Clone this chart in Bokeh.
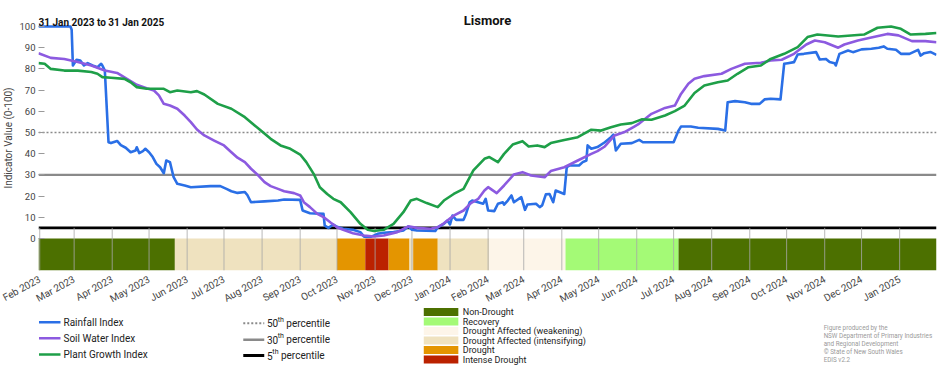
import math
import pandas as pd
from bokeh.plotting import figure
from bokeh.models import (Range1d, Span, FixedTicker, MonthsTicker,
                          DatetimeTickFormatter, ColumnDataSource)
from bokeh.layouts import column
from bokeh.core.properties import value
from bokeh.embed import file_html
from bokeh.resources import INLINE

FONT = "Roboto"

# ---------------- data ----------------
rain_dates = ["2023-01-31","2023-02-26","2023-02-27","2023-02-28","2023-03-03","2023-03-06","2023-03-09",
    "2023-03-12","2023-03-16","2023-03-20","2023-03-23","2023-03-24","2023-03-26","2023-03-29","2023-03-31",
    "2023-04-05","2023-04-08","2023-04-12","2023-04-16","2023-04-20","2023-04-21","2023-04-23","2023-04-26",
    "2023-04-28","2023-05-01","2023-05-04","2023-05-07","2023-05-10","2023-05-13","2023-05-15","2023-05-18",
    "2023-05-21","2023-05-24","2023-05-30","2023-06-04","2023-06-20","2023-06-28","2023-07-03","2023-07-07",
    "2023-07-12","2023-07-18","2023-07-20","2023-07-23","2023-08-03","2023-08-14","2023-08-19","2023-09-01",
    "2023-09-03","2023-09-09","2023-09-20","2023-09-21","2023-09-24","2023-09-28","2023-10-01","2023-10-06",
    "2023-10-14","2023-10-20","2023-10-23","2023-10-29","2023-11-03","2023-11-08","2023-11-16","2023-11-24",
    "2023-11-28","2023-12-01","2023-12-05","2023-12-20","2023-12-22","2023-12-27","2023-12-30","2024-01-01",
    "2024-01-03","2024-01-06","2024-01-12","2024-01-14","2024-01-17","2024-01-19","2024-01-28","2024-01-30",
    "2024-02-01","2024-02-06","2024-02-09","2024-02-13","2024-02-14","2024-02-17","2024-02-20","2024-02-22",
    "2024-02-28","2024-03-02","2024-03-04","2024-03-11","2024-03-14","2024-03-16","2024-03-19","2024-03-22",
    "2024-03-25","2024-03-27","2024-04-03","2024-04-05","2024-04-07","2024-04-15","2024-04-18","2024-04-21",
    "2024-04-22","2024-04-25","2024-04-30","2024-05-06","2024-05-11","2024-05-13","2024-05-15","2024-05-19",
    "2024-05-28","2024-06-03","2024-06-06","2024-07-01","2024-07-05","2024-07-07","2024-07-15","2024-07-21",
    "2024-08-06","2024-08-12","2024-08-14","2024-08-20","2024-08-28","2024-09-02","2024-09-09","2024-09-13",
    "2024-09-18","2024-09-26","2024-09-29","2024-10-02","2024-10-07","2024-10-10","2024-10-15","2024-10-25",
    "2024-10-28","2024-11-02","2024-11-05","2024-11-09","2024-11-10","2024-11-13","2024-11-20","2024-11-24",
    "2024-12-01","2024-12-09","2024-12-15","2024-12-19","2024-12-22","2024-12-29","2025-01-02","2025-01-09",
    "2025-01-16","2025-01-18","2025-01-21","2025-01-26","2025-01-31"]
rain_vals = [100,100,98.5,81.6,84.3,84,81.6,
    82.7,81.6,80.8,82.4,81.6,79.2,45.4,45,
    46,44,42.8,40.7,41.5,43,40.3,41.2,
    42.3,40.7,38.4,35.2,33.6,30.8,36.8,36,
    28.9,25.8,25,24.2,24.7,24.7,23.4,22.3,
    21.5,21.9,20.5,17.1,17.5,17.9,18.4,18.2,
    13.2,11.9,11.6,6.1,5.0,6.6,5.5,4.6,
    4.1,3.0,0.9,0.9,2.2,2.7,3.0,3.8,
    5.7,4.1,3.8,3.5,5.3,6.9,8.5,6.6,
    10.8,8.8,8.8,11.6,17.1,17.9,16.4,18.7,
    13.2,12.9,16.4,17.1,16,17.9,20.3,17.1,
    19.5,13.5,16,16.4,14.8,15.6,20.8,21,
    17.1,22.6,21,33.6,34.4,34.4,36,36.8,
    43.9,42.3,43.1,45.4,47.8,49,41.5,44.7,
    45,46.5,45.4,45.4,50.9,52.8,52.8,52.2,
    51.7,50.9,64.3,64.8,64.3,63.5,63.5,65.6,
    65.9,65.6,82.4,82.7,83.2,86.8,87.1,87.9,
    84.4,84.7,83.2,82.7,81.6,87.1,88.7,87.9,
    89.2,89.5,90,90.6,89.5,89,87.1,87.1,
    89,86.3,87.4,88,86.6]

soil_dates = ["2023-01-31","2023-02-10","2023-02-21","2023-03-04","2023-03-15","2023-03-26","2023-04-05",
    "2023-04-13","2023-04-21","2023-04-29","2023-05-05","2023-05-09","2023-05-13","2023-05-18","2023-05-24",
    "2023-05-30","2023-06-04","2023-06-09","2023-06-15","2023-06-23","2023-07-01","2023-07-07","2023-07-12",
    "2023-07-18","2023-07-23","2023-07-29","2023-08-03","2023-08-08","2023-08-14","2023-08-19","2023-08-27",
    "2023-09-01","2023-09-04","2023-09-09","2023-09-15","2023-09-20","2023-09-26","2023-10-01","2023-10-06",
    "2023-10-14","2023-10-23","2023-10-31","2023-11-08","2023-11-19","2023-11-28","2023-12-05","2023-12-16",
    "2023-12-22","2023-12-27","2024-01-04","2024-01-12","2024-01-18","2024-01-24","2024-01-29","2024-02-01",
    "2024-02-08","2024-02-14","2024-02-22","2024-02-29","2024-03-07","2024-03-18","2024-03-23","2024-04-03",
    "2024-04-14","2024-04-25","2024-04-30","2024-05-06","2024-05-14","2024-05-22","2024-05-30","2024-06-02",
    "2024-06-13","2024-06-24","2024-07-02","2024-07-07","2024-07-13","2024-07-18","2024-07-26","2024-08-09",
    "2024-08-17","2024-08-28","2024-09-10","2024-09-18","2024-09-27","2024-10-07","2024-10-17","2024-10-24",
    "2024-11-01","2024-11-12","2024-11-17","2024-11-28","2024-12-08","2024-12-22","2024-12-31","2025-01-11",
    "2025-01-22","2025-01-31"]
soil_vals = [87.4,85.2,84.7,83.2,81.6,79.2,78.1,
    75.3,72.5,70.9,69.8,67.5,63.5,62.7,61.2,
    58,54.9,51.4,48.6,46.2,43.9,40.7,38.1,
    36,32.9,29.7,26.6,24.7,23.4,22.3,21.4,
    20.3,17.1,14.8,11.6,10.1,7.4,5.3,4.1,
    2.5,1.4,0.9,1.4,3.0,5.7,5.0,4.6,
    5.3,7.2,10.8,13.2,16.7,18.7,22.6,24.2,
    21.4,25,30.2,31.3,29.7,28.9,31.8,33.6,
    36.8,39.9,41.2,43.4,48.6,50.2,52.8,53.8,
    58.8,61.6,62.7,68.2,73,75.3,76.6,77.7,
    80,82.4,82.9,84,84.3,87.1,91.5,93.4,
    92.6,90,91.5,93.4,94.7,96.5,95.8,93.1,
    93.1,92.6]

plant_dates = ["2023-01-31","2023-02-05","2023-02-10","2023-02-21","2023-03-04","2023-03-15","2023-03-20",
    "2023-03-24","2023-03-31","2023-04-11","2023-04-16","2023-04-21","2023-04-29","2023-05-13","2023-05-18",
    "2023-05-24","2023-06-04","2023-06-09","2023-06-15","2023-06-26","2023-07-07","2023-07-18","2023-07-26",
    "2023-07-31","2023-08-08","2023-08-16","2023-08-24","2023-09-01","2023-09-06","2023-09-12","2023-09-17",
    "2023-09-23","2023-09-28","2023-10-04","2023-10-12","2023-10-20","2023-10-26","2023-10-31","2023-11-08",
    "2023-11-16","2023-11-24","2023-11-30","2023-12-05","2023-12-13","2023-12-22","2023-12-27","2024-01-04",
    "2024-01-12","2024-01-20","2024-01-29","2024-02-02","2024-02-09","2024-02-14","2024-02-21","2024-02-29",
    "2024-03-05","2024-03-12","2024-03-18","2024-03-23","2024-04-03","2024-04-14","2024-04-25","2024-05-03",
    "2024-05-11","2024-05-19","2024-05-28","2024-06-05","2024-06-13","2024-06-24","2024-07-02","2024-07-10",
    "2024-07-18","2024-07-26","2024-08-06","2024-08-14","2024-08-22","2024-08-31","2024-09-10","2024-09-18",
    "2024-09-29","2024-10-10","2024-10-18","2024-10-26","2024-11-12","2024-12-03","2024-12-14","2024-12-25",
    "2025-01-02","2025-01-10","2025-01-22","2025-01-31"]
plant_vals = [82.7,82.4,80,79.2,79.2,78.5,77.7,
    76.1,75.8,75.3,73.7,71.4,70.6,70.6,69,
    69.8,69,69.5,67.9,63.5,61.2,57.2,53.3,
    50.9,47,43.9,42.3,39.6,36,30.5,24.2,
    21,18.7,17.1,12.4,6.9,4.1,3.5,4.1,
    6.9,12.4,17.9,18.7,16.7,14.8,17.9,21,
    23.4,32.1,37.6,38.4,36,39.9,44.3,45.9,
    43.4,43.9,43.1,45,46.5,47.8,51.3,50.9,
    52.5,53.8,54.4,56.2,56,58,60.1,62.7,
    68.6,72.2,73.7,74.5,77.7,80.8,81.6,84.7,
    87.1,90.3,95,96.2,95.3,96.2,99.4,100,
    98.9,96.2,96.5,96.9]

band_start = ["2023-01-31","2023-05-22","2023-10-01","2023-10-24","2023-11-12","2023-11-29",
              "2023-12-02","2023-12-22","2024-02-02","2024-04-04","2024-07-05"]
band_end = ["2023-05-22","2023-10-01","2023-10-24","2023-11-12","2023-11-29","2023-12-02",
            "2023-12-22","2024-02-02","2024-04-04","2024-07-05","2025-01-31"]
band_cat = ["Non-Drought","Drought Affected (intensifying)","Drought","Intense Drought","Drought",
            "Drought Affected (intensifying)","Drought","Drought Affected (intensifying)",
            "Drought Affected (weakening)","Recovery","Non-Drought"]

drought_classes = ["Non-Drought","Recovery","Drought Affected (weakening)",
                   "Drought Affected (intensifying)","Drought","Intense Drought"]
drought_colors = ["#4c7000","#a4fa76","#fdf5e9","#efe2bf","#e49500","#bb2200"]

series_names = ["Rainfall Index","Soil Water Index","Plant Growth Index"]
series_colors = ["#2a6fe6","#8c5ae0","#1e9f48"]

pct_levels = [50, 30, 5]
pct_labels = ["50","30","5"]
pct_colors = ["#8a8a8a","#8a8a8a","#000000"]
pct_widths = [1.6, 2.2, 2.6]
pct_dashes = ["2 2","solid","solid"]

y_ticks = [0,10,20,30,40,50,60,70,80,90,100]

title_text = "Lismore"
subtitle_text = "31 Jan 2023 to 31 Jan 2025"
y_title = "Indicator Value (0-100)"
credits = ["Figure produced by the","NSW Department of Primary Industries",
           "and Regional Development","\u00a9 State of New South Wales","EDIS v2.2"]

# ---------------- main figure ----------------
x0 = pd.Timestamp("2023-01-31")
x1 = pd.Timestamp("2025-01-31")

W = 952
MAIN_H = 312
BL, BR, BT, BB = 37, 16, 5, 42
FW = W - BL - BR
FH = MAIN_H - BT - BB
PX_PER_UNIT = 2.12
Y_BOT = -15.1
Y_TOP = Y_BOT + FH / PX_PER_UNIT
OVERLAP = 6   # the legend strip is pulled up over the empty bottom of the main canvas


def page_y_to_val(py):
    # vertical page position (px from the top) -> value on the y scale
    return Y_TOP - (py - BT) / PX_PER_UNIT


p = figure(width=W, height=MAIN_H, x_axis_type="datetime",
           x_range=Range1d(x0, x1), y_range=Range1d(Y_BOT, Y_TOP),
           toolbar_location=None, output_backend="svg",
           min_border_left=BL, min_border_right=BR, min_border_top=BT, min_border_bottom=BB)
p.outline_line_color = None
p.xgrid.visible = False
p.ygrid.visible = False
p.background_fill_color = "white"
p.border_fill_color = "white"

# drought band
cmap = dict(zip(drought_classes, drought_colors))
band_src = ColumnDataSource(dict(
    left=pd.to_datetime(band_start), right=pd.to_datetime(band_end),
    color=[cmap[c] for c in band_cat], cat=band_cat))
p.quad(left="left", right="right", bottom=Y_BOT, top=0, fill_color="color",
       line_color=None, source=band_src)

# month gridlines in the band area
months = pd.date_range("2023-02-01", "2025-01-01", freq="MS")
p.segment(x0=months, y0=[Y_BOT]*len(months), x1=months, y1=[5]*len(months),
          line_color="#a8a8a8", line_alpha=0.8, line_width=1)

# percentile reference lines
for lvl, col, w, d in zip(pct_levels, pct_colors, pct_widths, pct_dashes):
    p.add_layout(Span(location=lvl, dimension="width", line_color=col,
                      line_width=w, line_dash=d, level="underlay"))

# index lines
for dates, vals, col in zip([rain_dates, soil_dates, plant_dates],
                            [rain_vals, soil_vals, plant_vals], series_colors):
    p.line(pd.to_datetime(dates), vals, line_color=col, line_width=2.6, line_join="round")

# title and date-range subtitle (inside the top of the frame)
p.text(x=[x0 + (x1 - x0) / 2], y=[page_y_to_val(19.5)], text=[title_text],
       text_font=value(FONT), text_font_size="13px", text_font_style="bold",
       text_align="center", text_baseline="alphabetic", text_color="#111111")
p.text(x=[x0], y=[page_y_to_val(22)], text=[subtitle_text],
       text_font=value(FONT), text_font_size="10px", text_font_style="bold",
       text_align="left", text_baseline="alphabetic", text_color="#111111")

# axes
p.xaxis.ticker = MonthsTicker(months=list(range(1, 13)))
p.xaxis.formatter = DatetimeTickFormatter(days="%b %Y", months="%b %Y", years="%b %Y")
p.xaxis.major_label_orientation = 0.5
p.xaxis.major_label_text_font = FONT
p.xaxis.major_label_text_font_size = "10px"
p.xaxis.major_label_text_color = "#444444"
p.xaxis.major_label_standoff = 8
p.xaxis.axis_line_color = None
p.xaxis.major_tick_line_color = None
p.xaxis.major_tick_in = 0
p.xaxis.major_tick_out = 0
p.xaxis.minor_tick_line_color = None
p.xaxis.minor_tick_in = 0
p.xaxis.minor_tick_out = 0

p.yaxis.ticker = FixedTicker(ticks=y_ticks, minor_ticks=[])
p.yaxis.major_label_text_font = FONT
p.yaxis.major_label_text_font_size = "9.5px"
p.yaxis.major_label_text_color = "#444444"
p.yaxis.major_label_standoff = 3
p.yaxis.axis_line_color = None
p.yaxis.major_tick_in = 6
p.yaxis.major_tick_out = 0
p.yaxis.major_tick_line_color = "#9a9a9a"
p.yaxis.minor_tick_line_color = None
p.yaxis.minor_tick_out = 0
p.yaxis.axis_label = y_title
p.yaxis.axis_label_text_font = FONT
p.yaxis.axis_label_text_font_size = "10px"
p.yaxis.axis_label_text_font_style = "normal"
p.yaxis.axis_label_text_color = "#444444"
p.yaxis.axis_label_standoff = 2

# ---------------- legend strip ----------------
# The column aligns this strip's frame with the main frame (page x 37..936),
# so the x range is set to those page pixels.
TOP = MAIN_H - OVERLAP         # page y of the strip's top edge
LH = 370 - TOP
leg = figure(width=W, height=LH, x_range=Range1d(BL, W - BR), y_range=Range1d(LH, 0),
             toolbar_location=None, output_backend="svg", min_border=0,
             min_border_left=BL, min_border_right=BR,
             x_axis_location=None, y_axis_location=None,
             margin=(-OVERLAP, 0, 0, 0))
leg.outline_line_color = None
leg.grid.visible = False
leg.background_fill_alpha = 0
leg.border_fill_alpha = 0

idx_rows = [r - TOP for r in (321.7, 337.7, 354.0)]
leg.segment(x0=[37.5]*3, y0=idx_rows, x1=[59]*3, y1=idx_rows,
            line_color=series_colors, line_width=2.6)
leg.text(x=[62]*3, y=idx_rows, text=series_names, text_font=value(FONT),
         text_font_size="10px", text_baseline="middle", text_color="#222222")

pct_rows = [r - TOP for r in (322.7, 339.3, 355.0)]
for lbl, row, col, w, d in zip(pct_labels, pct_rows, pct_colors, pct_widths, pct_dashes):
    leg.segment(x0=[242], y0=[row], x1=[263], y1=[row], line_color=col,
                line_width=w + 0.4, line_dash=d)
    nx = 265.7
    thx = nx + 5.4 * len(lbl)
    leg.text(x=[nx], y=[row], text=[lbl], text_font=value(FONT), text_font_size="10px",
             text_baseline="middle", text_color="#222222")
    leg.text(x=[thx], y=[row - 3.5], text=["th"], text_font=value(FONT), text_font_size="7px",
             text_baseline="middle", text_color="#222222")
    leg.text(x=[thx + 8.6], y=[row], text=["percentile"], text_font=value(FONT),
             text_font_size="10px", text_baseline="middle", text_color="#222222")

dr_rows = [311.5 + 9.5 * i - TOP for i in range(len(drought_classes))]
leg.quad(left=[422.7]*6, right=[457.3]*6, top=[r - 4 for r in dr_rows],
         bottom=[r + 4 for r in dr_rows], fill_color=drought_colors, line_color=None)
leg.text(x=[461.7]*6, y=dr_rows, text=drought_classes, text_font=value(FONT),
         text_font_size="9px", text_baseline="middle", text_color="#222222")

cr_rows = [327 + 8 * i - TOP for i in range(len(credits))]
leg.text(x=[823]*len(credits), y=cr_rows, text=credits, text_font=value(FONT),
         text_font_size="6.3px", text_baseline="middle", text_color="#9a9a9a")

layout = column(p, leg, spacing=0)
open("out.html", "w").write(file_html(layout, INLINE))
